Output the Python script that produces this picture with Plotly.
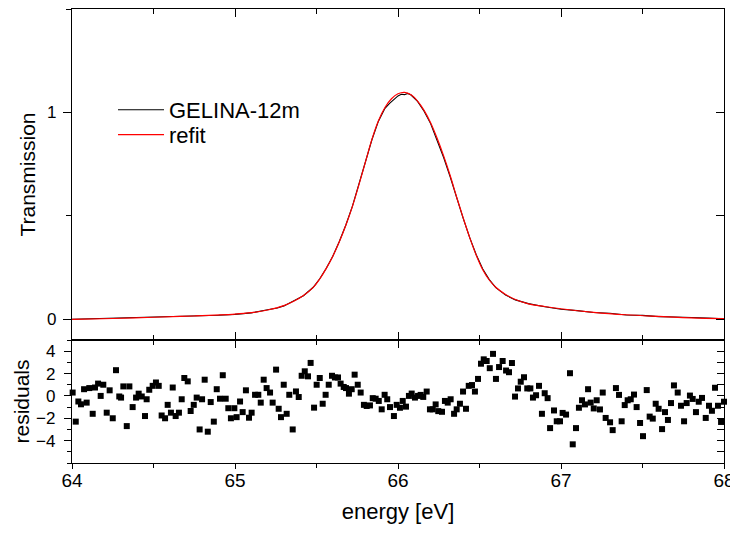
import plotly.graph_objects as go

# ---------------- data ----------------
energy_data = [64.00, 64.10, 64.20, 64.30, 64.40, 64.50, 64.60, 64.70, 64.80, 64.90,
               65.00, 65.10, 65.20, 65.26, 65.30, 65.36, 65.42, 65.48, 65.52, 65.56,
               65.60, 65.64, 65.68, 65.72, 65.76, 65.80, 65.84, 65.88, 65.92, 65.95,
               65.98, 66.00, 66.02, 66.04, 66.06, 66.08, 66.12, 66.16, 66.20, 66.24,
               66.28, 66.32, 66.36, 66.40, 66.44, 66.48, 66.52, 66.56, 66.60, 66.66,
               66.72, 66.80, 66.90, 66.96, 67.00, 67.10, 67.20, 67.30, 67.40, 67.50,
               67.60, 67.70, 67.80, 67.90, 68.00]
trans_data = [0.000, 0.002, 0.005, 0.005, 0.008, 0.010, 0.011, 0.015, 0.016, 0.020,
              0.024, 0.031, 0.046, 0.055, 0.065, 0.088, 0.114, 0.155, 0.196, 0.247,
              0.305, 0.376, 0.456, 0.546, 0.652, 0.760, 0.868, 0.958, 1.020, 1.045,
              1.068, 1.080, 1.088, 1.086, 1.092, 1.084, 1.053, 1.006, 0.946, 0.868,
              0.782, 0.689, 0.586, 0.488, 0.395, 0.312, 0.243, 0.192, 0.153, 0.117,
              0.094, 0.076, 0.061, 0.054, 0.049, 0.042, 0.033, 0.029, 0.021, 0.019,
              0.013, 0.011, 0.007, 0.006, 0.003]

energy_fit = [64.00, 64.25, 64.50, 64.75, 65.00, 65.10, 65.20, 65.30, 65.36, 65.42,
              65.48, 65.52, 65.56, 65.60, 65.64, 65.68, 65.72, 65.76, 65.80, 65.84,
              65.88, 65.92, 65.96, 66.00, 66.04, 66.08, 66.12, 66.16, 66.20, 66.24,
              66.28, 66.32, 66.36, 66.40, 66.44, 66.48, 66.52, 66.56, 66.60, 66.66,
              66.72, 66.80, 66.90, 67.00, 67.20, 67.40, 67.60, 67.80, 68.00]
trans_fit = [0.000, 0.004, 0.010, 0.016, 0.025, 0.032, 0.045, 0.066, 0.087, 0.115,
             0.154, 0.195, 0.246, 0.305, 0.375, 0.455, 0.545, 0.650, 0.760, 0.870,
             0.960, 1.024, 1.066, 1.090, 1.097, 1.085, 1.055, 1.010, 0.950, 0.875,
             0.790, 0.695, 0.590, 0.490, 0.395, 0.310, 0.240, 0.190, 0.155, 0.120,
             0.096, 0.075, 0.062, 0.051, 0.034, 0.022, 0.014, 0.007, 0.003]

energy_res = [63.990, 64.004, 64.023, 64.039, 64.055, 64.074, 64.090, 64.106, 64.127, 64.141,
              64.160, 64.176, 64.192, 64.213, 64.231, 64.250, 64.270, 64.290, 64.301, 64.315,
              64.336, 64.352, 64.372, 64.393, 64.409, 64.428, 64.448, 64.458, 64.474, 64.495,
              64.515, 64.532, 64.550, 64.571, 64.587, 64.607, 64.618, 64.636, 64.656, 64.673,
              64.689, 64.710, 64.728, 64.747, 64.765, 64.783, 64.798, 64.814, 64.833, 64.851,
              64.870, 64.888, 64.908, 64.925, 64.943, 64.959, 64.975, 64.996, 65.010, 65.031,
              65.047, 65.067, 65.086, 65.102, 65.123, 65.143, 65.158, 65.176, 65.194, 65.215,
              65.231, 65.252, 65.268, 65.282, 65.299, 65.317, 65.333, 65.354, 65.374, 65.391,
              65.409, 65.428, 65.448, 65.464, 65.485, 65.501, 65.520, 65.538, 65.556, 65.575,
              65.595, 65.613, 65.632, 65.648, 65.667, 65.681, 65.699, 65.716, 65.734, 65.753,
              65.771, 65.791, 65.808, 65.828, 65.845, 65.863, 65.882, 65.900, 65.918, 65.934,
              65.951, 65.975, 65.992, 66.012, 66.029, 66.049, 66.067, 66.084, 66.104, 66.123,
              66.139, 66.155, 66.176, 66.196, 66.213, 66.231, 66.247, 66.270, 66.288, 66.305,
              66.323, 66.344, 66.360, 66.380, 66.399, 66.417, 66.434, 66.454, 66.472, 66.491,
              66.509, 66.526, 66.544, 66.563, 66.583, 66.601, 66.620, 66.642, 66.663, 66.681,
              66.699, 66.718, 66.736, 66.753, 66.773, 66.793, 66.812, 66.828, 66.847, 66.865,
              66.883, 66.900, 66.918, 66.933, 66.957, 66.974, 66.994, 67.010, 67.031, 67.055,
              67.072, 67.092, 67.110, 67.129, 67.147, 67.166, 67.182, 67.201, 67.219, 67.239,
              67.256, 67.274, 67.301, 67.317, 67.337, 67.356, 67.372, 67.391, 67.409, 67.428,
              67.448, 67.464, 67.485, 67.503, 67.526, 67.544, 67.563, 67.581, 67.599, 67.620,
              67.638, 67.656, 67.675, 67.693, 67.716, 67.736, 67.755, 67.771, 67.791, 67.808,
              67.828, 67.845, 67.865, 67.888, 67.908, 67.926, 67.945, 67.963, 67.982, 68.000,
              68.017]
residuals = [-0.70, 0.30, -2.30, -0.50, -0.75, 0.60, -0.60, 0.70, -1.60, 0.75,
             1.10, 0.00, 1.00, -1.50, 0.50, -2.00, 2.30, -0.05, -0.15, 0.85,
             -2.70, 0.85, -1.00, -0.15, 0.20, -0.05, -1.80, -0.30, 0.55, 0.90,
             1.20, 0.90, -1.75, -2.00, -0.80, -1.50, 0.75, -1.80, -1.50, -0.30,
             1.60, 1.30, -1.35, -0.80, -0.15, -3.00, -0.30, 1.45, -3.20, -0.55,
             -2.30, 0.60, -0.25, 1.85, -0.25, -1.10, -2.00, -1.10, -1.90, -0.50,
             -1.45, 0.50, -1.95, -1.50, 0.10, 0.10, -0.60, 1.45, 0.70, 0.30,
             -0.60, 2.35, -1.15, -1.90, 1.00, -1.60, 0.10, -3.00, 0.40, -0.10,
             1.80, 2.20, 1.75, 2.95, -1.05, 1.00, 1.60, -0.70, 0.10, 1.00,
             1.80, 1.65, 1.65, 1.10, 0.80, 0.70, 0.20, 0.60, 1.90, 1.00,
             0.30, -0.80, -0.90, -0.85, -0.20, -0.25, -0.45, -1.20, 0.10, -0.30,
             -1.00, -1.80, -0.80, -1.06, -0.45, -0.96, 0.00, 0.21, -0.15, 0.00,
             0.09, -0.09, 0.39, -1.20, -1.20, -0.76, -1.36, -1.42, -0.45, -0.60,
             -0.30, -1.60, -1.20, -0.70, 0.39, -1.15, 0.90, 0.97, 0.39, 1.52,
             2.88, 3.27, 3.12, 2.48, 3.76, 1.52, 2.58, 3.12, 2.27, 2.12,
             2.94, -0.06, 0.67, 1.27, 1.67, 0.67, 0.67, -0.15, 0.06, 0.90,
             -1.60, 0.24, -0.20, -2.88, -1.30, -2.27, -2.27, -1.52, -1.67, 2.03,
             -4.33, -2.88, -1.06, -0.39, -0.76, 0.60, -0.60, -1.12, -0.39, -1.21,
             0.30, -1.97, -2.36, -3.06, 0.70, 0.09, -2.27, -0.82, -0.39, -0.30,
             0.12, -1.00, -2.42, -3.60, 0.52, -1.85, -2.03, -0.70, -1.15, -2.97,
             -1.45, -2.15, -0.64, 0.94, 0.30, -0.88, -2.27, -0.64, 0.03, -0.27,
             -1.45, -0.52, -0.18, -1.97, -0.88, -1.33, 0.73, -0.88, -2.33, -0.52,
             -0.97]

energy_ticks = [64, 65, 66, 67, 68]
trans_ticks = [0, 1]
res_ticks = [-4, -2, 0, 2, 4]

# ---------------- figure ----------------
FONT = "Liberation Sans, Arial, sans-serif"
LW = 1.3

fig = go.Figure()
fig.add_trace(go.Scatter(x=energy_data, y=trans_data, mode="lines", name="GELINA-12m",
                         line=dict(color="black", width=1.1), xaxis="x2", yaxis="y2",
                         legend="legend"))
fig.add_trace(go.Scatter(x=energy_fit, y=trans_fit, mode="lines", name="refit",
                         line=dict(color="#ff0000", width=1.2, shape="spline"),
                         xaxis="x2", yaxis="y2", legend="legend2"))
fig.add_trace(go.Scatter(x=energy_res, y=residuals, mode="markers", showlegend=False,
                         marker=dict(symbol="square", size=6, color="black", line=dict(width=0)),
                         cliponaxis=False, xaxis="x", yaxis="y"))
# empty traces so that the overlay axes are drawn
fig.add_trace(go.Scatter(x=[], y=[], showlegend=False, xaxis="x3", yaxis="y"))
fig.add_trace(go.Scatter(x=[], y=[], showlegend=False, xaxis="x", yaxis="y3"))
fig.add_trace(go.Scatter(x=[], y=[], showlegend=False, xaxis="x2", yaxis="y4"))
fig.add_trace(go.Scatter(x=[], y=[], showlegend=False, xaxis="x4", yaxis="y2"))

split = 123 / 454
common = dict(showgrid=False, zeroline=False, showline=True, linecolor="black",
              linewidth=LW, tickcolor="black", tickwidth=LW)
minor_in = dict(dtick=0.5, tick0=64, ticks="inside", ticklen=5, tickcolor="black", tickwidth=LW)
legend_common = dict(xanchor="left", yanchor="top", bgcolor="rgba(0,0,0,0)", borderwidth=0,
                     font=dict(size=22, family=FONT), itemwidth=46)

fig.update_layout(
    width=730, height=517,
    margin=dict(l=64, r=14, t=1, b=62),
    paper_bgcolor="white", plot_bgcolor="white",
    font=dict(family=FONT, color="black"),
    showlegend=True,
    legend=dict(**legend_common, x=0.0629, y=0.824),
    legend2=dict(**legend_common, x=0.0629, y=0.769),
    # residual panel, bottom axis with labels
    xaxis=dict(**common, domain=[0, 1], anchor="y", range=[64, 68], side="bottom",
               tickmode="array", tickvals=energy_ticks, ticks="outside", ticklen=5,
               minor=dict(dtick=0.5, tick0=64, ticks="outside", ticklen=4,
                          tickcolor="black", tickwidth=LW),
               tickfont=dict(size=19, family=FONT), ticklabelstandoff=-5,
               title=dict(text="energy [eV]", font=dict(size=22, family=FONT), standoff=13)),
    # residual panel, top border with inner ticks
    xaxis3=dict(**common, overlaying="x", anchor="y", side="top", range=[64, 68],
                tickmode="array", tickvals=energy_ticks, ticks="inside", ticklen=8,
                showticklabels=False, minor=minor_in),
    # transmission panel x axis (bottom border, inner ticks)
    xaxis2=dict(**common, domain=[0, 1], anchor="y2", range=[64, 68], matches="x",
                tickmode="array", tickvals=energy_ticks, ticks="inside", ticklen=8,
                showticklabels=False, minor=minor_in),
    # transmission panel top border
    xaxis4=dict(**common, overlaying="x2", anchor="y2", side="top", range=[64, 68],
                tickmode="array", tickvals=energy_ticks, ticks="inside", ticklen=8,
                showticklabels=False, minor=minor_in),
    # residual panel y
    yaxis=dict(**common, domain=[0, split], anchor="x", range=[-6, 5],
               tickmode="array", tickvals=res_ticks, ticks="outside", ticklen=7,
               minor=dict(dtick=1, tick0=0, ticks="outside", ticklen=4,
                          tickcolor="black", tickwidth=LW),
               tickfont=dict(size=17, family=FONT), ticklabelstandoff=5,
               title=dict(text="residuals", font=dict(size=21, family=FONT), standoff=0)),
    yaxis3=dict(**common, overlaying="y", anchor="x", side="right", range=[-6, 5],
                tickmode="linear", tick0=0, dtick=1, ticks="inside", ticklen=7,
                showticklabels=False),
    # transmission panel y
    yaxis2=dict(**common, domain=[split, 1], anchor="x2", range=[-0.1, 1.5],
                tickmode="array", tickvals=trans_ticks, ticks="outside", ticklen=8,
                minor=dict(dtick=0.5, tick0=0, ticks="outside", ticklen=5,
                           tickcolor="black", tickwidth=LW),
                tickfont=dict(size=17, family=FONT), ticklabelstandoff=3,
                title=dict(text="Transmission", font=dict(size=21, family=FONT), standoff=5)),
    yaxis4=dict(**common, overlaying="y2", anchor="x2", side="right", range=[-0.1, 1.5],
                tickmode="linear", tick0=0, dtick=0.5, ticks="inside", ticklen=8,
                showticklabels=False),
)

fig.write_html("out.html")
